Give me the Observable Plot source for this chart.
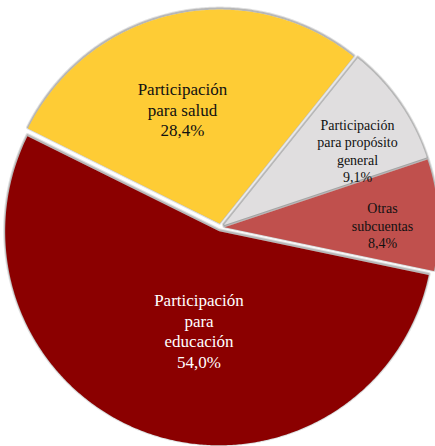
<!DOCTYPE html>
<html>
<head>
<meta charset="utf-8">
<script src="https://cdn.jsdelivr.net/npm/d3@7"></script>
<script src="https://cdn.jsdelivr.net/npm/@observablehq/plot@0.6"></script>
</head>
<body style="margin:0;background:#ffffff;font-family:'Liberation Serif'">
<div id="chart"></div>
<script>
// ---- data ----
const categories = [
  "Participación para salud",
  "Participación para propósito general",
  "Otras subcuentas",
  "Participación para educación"
];
const values = [28.4, 9.1, 8.4, 54.0];
const labels = [
  "Participación\npara salud\n28,4%",
  "Participación\npara propósito\ngeneral\n9,1%",
  "Otras\nsubcuentas\n8,4%",
  "Participación\npara\neducación\n54,0%"
];
const colors = ["#FECC35", "#E0DEDF", "#C0504D", "#8B0000"];

// ---- layout ----
const W = 435, H = 446;
const cx = 220, cy = 227, R = 214, explode = 4;
const startAngle = -63.6; // degrees, clockwise from 12 o'clock
const labelX = [182, 357, 382, 198.5];
const labelY = [108.5, 150, 224.5, 330];
const labelSize = [17, 14, 14, 17];
const labelColor = ["#111", "#111", "#111", "#fff"];
const FONT = "Liberation Serif";

const total = d3.sum(values);
const pts = [];
let a = startAngle;
values.forEach((v, i) => {
  const span = v / total * 360;
  const a0 = a, a1 = a + span, m = (a0 + a1) / 2;
  const ox = explode * Math.sin(m * Math.PI / 180);
  const oy = -explode * Math.cos(m * Math.PI / 180);
  const x0 = cx + ox, y0 = cy + oy;
  pts.push({cat: categories[i], x: x0, y: y0});
  const n = Math.ceil(span / 0.5);
  for (let k = 0; k <= n; k++) {
    const t = (a0 + span * k / n) * Math.PI / 180;
    pts.push({cat: categories[i], x: x0 + R * Math.sin(t), y: y0 - R * Math.cos(t)});
  }
  pts.push({cat: categories[i], x: x0, y: y0});
  a = a1;
});

const chart = Plot.plot({
  width: W,
  height: H,
  margin: 0,
  x: {domain: [0, W], range: [0, W], axis: null},
  y: {domain: [0, H], range: [0, H], axis: null},
  color: {domain: categories, range: colors},
  marks: [
    // soft edge shading behind the slices
    Plot.line(pts, {x: "x", y: "y", z: "cat", stroke: "#000", strokeOpacity: 0.12, strokeWidth: 4, dy: -1, curve: "linear"}),
    Plot.line(pts, {x: "x", y: "y", z: "cat", stroke: "#000", strokeOpacity: 0.18, strokeWidth: 2, dy: -1, curve: "linear"}),
    Plot.line(pts, {x: "x", y: "y", z: "cat", fill: "cat", stroke: null, curve: "linear"}),
    ...labels.map((t, i) => Plot.text([{text: t, x: labelX[i], y: labelY[i]}], {
      x: "x", y: "y", text: "text",
      fontSize: labelSize[i], lineHeight: labelSize[i] > 15 ? 1.2 : 1.25,
      fontFamily: FONT,
      fill: labelColor[i], lineAnchor: "middle"
    }))
  ]
});

// force the serif face on every level (root, groups, texts, tspans)
chart.setAttribute("font-family", FONT);
chart.style.fontFamily = FONT;
chart.querySelectorAll("g[aria-label='text'], text, tspan").forEach(el => {
  el.setAttribute("font-family", FONT);
  el.style.fontFamily = FONT;
});

document.getElementById("chart").appendChild(chart);
</script>
</body>
</html>
